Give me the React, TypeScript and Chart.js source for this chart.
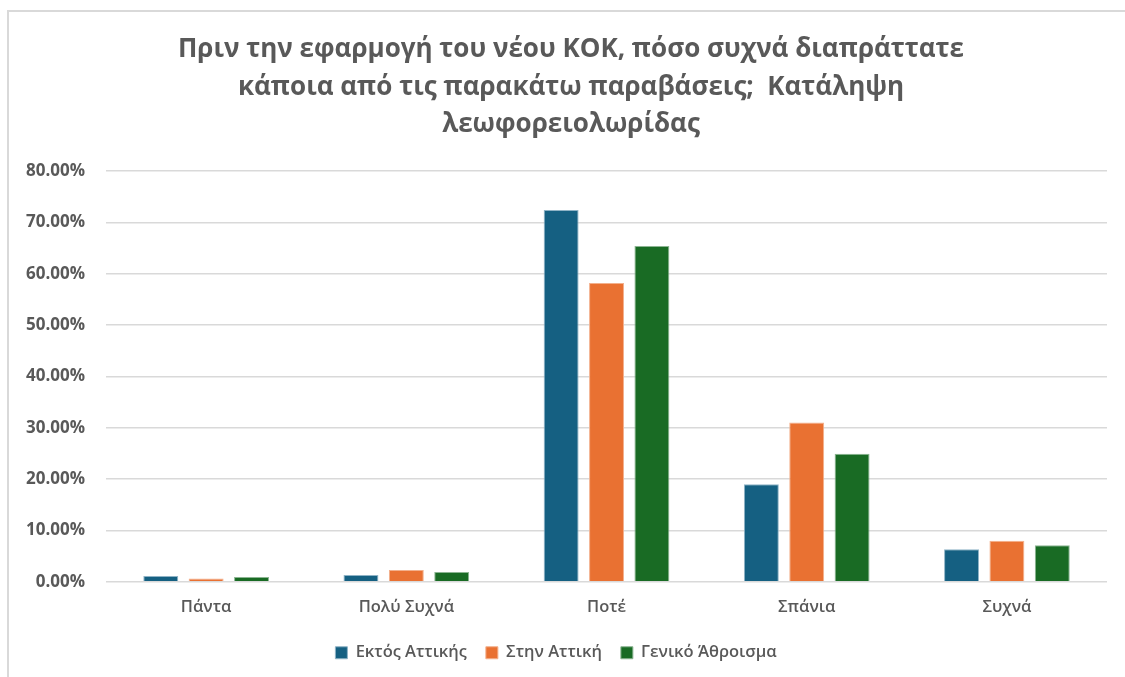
import React, { useEffect, useRef } from "react";
import { Chart, registerables } from "chart.js";

Chart.register(...registerables);

const categories = ["Πάντα", "Πολύ Συχνά", "Ποτέ", "Σπάνια", "Συχνά"];
const seriesNames = ["Εκτός Αττικής", "Στην Αττική", "Γενικό Άθροισμα"];
const outsideAttica = [1.1, 1.3, 72.4, 19.0, 6.3];
const inAttica = [0.6, 2.3, 58.2, 31.0, 8.0];
const total = [0.9, 1.9, 65.4, 24.9, 7.1];
const titleLines = [
  "Πριν την εφαρμογή του νέου ΚΟΚ, πόσο συχνά διαπράττατε",
  "κάποια από τις παρακάτω παραβάσεις;  Κατάληψη",
  "λεωφορειολωρίδας",
];
const colors = ["#156082", "#E97132", "#196B24"];
const borderColors = ["#8fb3c6", "#f3b08c", "#8cb592"];

const FONT = "'Open Sans', sans-serif";
const GRAY = "#595959";

const frame = {
  id: "frame",
  afterDraw(chart: any) {
    const ctx = chart.ctx;
    ctx.save();
    ctx.strokeStyle = "#d9d9d9";
    ctx.lineWidth = 2;
    ctx.beginPath();
    ctx.moveTo(8, chart.height);
    ctx.lineTo(8, 11);
    ctx.lineTo(chart.width, 11);
    ctx.stroke();
    ctx.fillStyle = GRAY;
    ctx.font = `bold 26px ${FONT}`;
    ctx.textAlign = "center";
    ctx.textBaseline = "middle";
    titleLines.forEach((t, i) => ctx.fillText(t, 571, 50 + i * 37.5));
    ctx.restore();
  },
};

export default function App() {
  const ref = useRef<HTMLCanvasElement>(null);
  useEffect(() => {
    if (!ref.current) return;
    const data = [outsideAttica, inAttica, total];
    const chart = new Chart(ref.current, {
      type: "bar",
      data: {
        labels: categories,
        datasets: seriesNames.map((n, i) => ({
          label: n,
          data: data[i],
          backgroundColor: colors[i],
          borderColor: borderColors[i],
          borderWidth: 1,
          barPercentage: 0.77,
          categoryPercentage: 0.68,
        })),
      },
      options: {
        animation: false,
        responsive: false,
        maintainAspectRatio: false,
        layout: { padding: { left: 5, right: 18, top: 171, bottom: 6 } },
        plugins: {
          title: { display: false },
          legend: {
            position: "bottom",
            labels: {
              color: GRAY,
              font: { family: FONT, size: 16.5, weight: 600 },
              boxWidth: 12,
              boxHeight: 12,
              padding: 19,
            },
          },
          tooltip: { enabled: false },
        },
        scales: {
          x: {
            grid: { display: false },
            border: { display: false },
            ticks: {
              color: GRAY,
              font: { family: FONT, size: 16.5, weight: 600 },
              padding: 8,
            },
          },
          y: {
            min: 0,
            max: 80,
            border: { display: false },
            grid: { color: "#d9d9d9", lineWidth: 1.5, drawTicks: false },
            ticks: {
              stepSize: 10,
              color: GRAY,
              font: { family: FONT, size: 17, weight: "bold" },
              padding: 21,
              callback: (v: any) => Number(v).toFixed(2) + "%",
            },
          },
        },
      },
      plugins: [frame],
    });
    return () => chart.destroy();
  }, []);
  return (
    <div style={{ position: "fixed", left: 0, top: 0, width: 1125, height: 677, background: "#fff" }}>
      <canvas ref={ref} width={1125} height={677} style={{ display: "block" }} />
    </div>
  );
}
